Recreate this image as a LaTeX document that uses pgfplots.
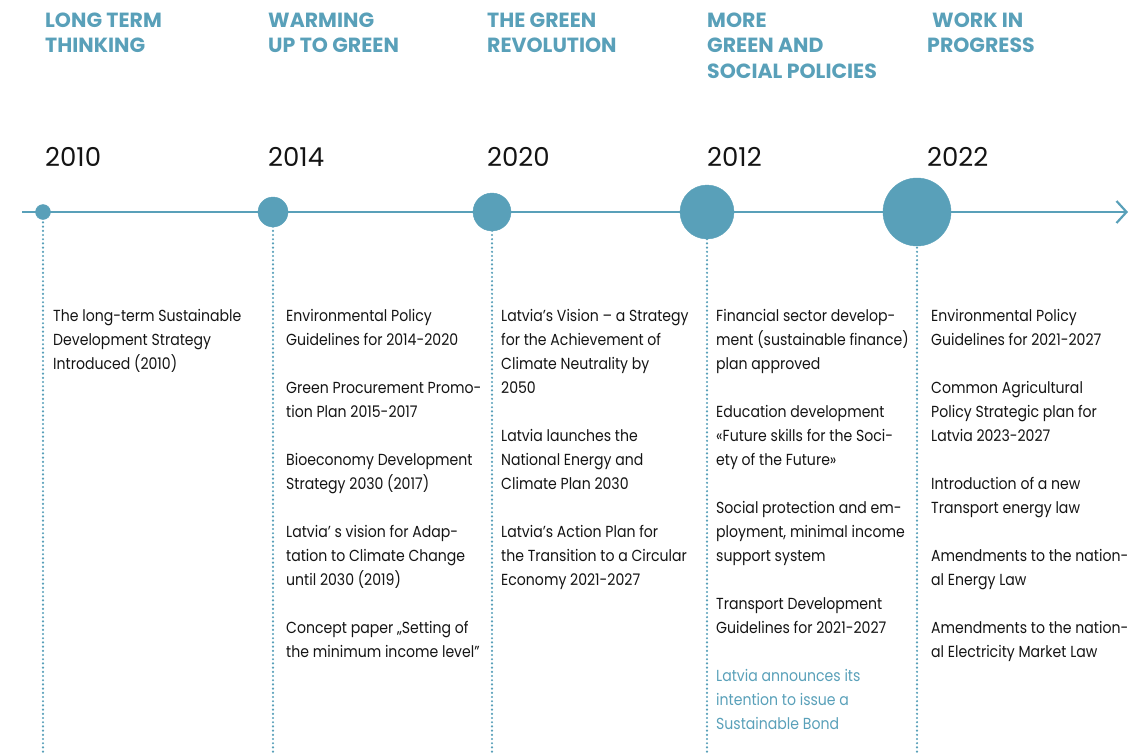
\documentclass[border=0pt]{standalone}
\usepackage{pgfplots}
\pgfplotsset{compat=1.18}
\usepackage{pgfplotstable}
\usetikzlibrary{arrows.meta}
\usepackage{fontspec}
\setmainfont{Poppins}
\newfontfamily\bodyfont[FakeStretch=0.88]{Poppins}
\definecolor{tl}{HTML}{59A0B9}
\definecolor{tx}{HTML}{141414}
\pgfplotstableread{
x y r
43 212 7.5
273 212 15
492 212 19
707 212 27
917 212 34
}\circles
\newcommand{\hd}[3]{\node[anchor=base west,text=tl,font=\fontsize{20.5}{25}\selectfont\bfseries,inner sep=0pt] at (axis cs:#1,#2) {#3};}
\newcommand{\yr}[3]{\node[anchor=base west,text=tx,font=\fontsize{26}{30}\selectfont,inner sep=0pt] at (axis cs:#1,#2) {#3};}
\newcommand{\bt}[3]{\node[anchor=base west,text=tx,font=\bodyfont\fontsize{16}{24}\selectfont,inner sep=0pt] at (axis cs:#1,#2) {#3};}
\newcommand{\bg}[3]{\node[anchor=base west,text=tl,font=\bodyfont\fontsize{16}{24}\selectfont,inner sep=0pt] at (axis cs:#1,#2) {#3};}
\begin{document}
\begin{tikzpicture}
\begin{axis}[hide axis, x=1pt, y=1pt, y dir=reverse, xmin=0, xmax=1141, ymin=0, ymax=755, clip=false, scale only axis]
\path (axis cs:0,0) rectangle (axis cs:1141,755);
% dotted verticals
\foreach \xx in {43,273,492,707,917}{
  \edef\tmp{\noexpand\addplot[tl, line width=2.4pt, dash pattern=on 0pt off 4.2pt, line cap=round] coordinates {(\xx,214) (\xx,754)};}
  \tmp
}
\addplot[tl, line width=2.5pt, -{Straight Barb[length=10pt,width=22pt,line width=2.2pt]}] coordinates {(22,212) (1128,212)};
\addplot[only marks, mark=*, color=tl, scatter, point meta=explicit symbolic,
  visualization depends on={\thisrow{r}\as\rr},
  scatter/@pre marker code/.code={\pgfsetcolor{tl}\def\pgfplotsmarksize{\rr pt}\pgfplotsset{mark size=\rr}},
  scatter/@post marker code/.code={}]
  table[x=x,y=y,meta=r] {\circles};
% headers
\hd{45}{27}{LONG TERM}
\hd{45}{52}{THINKING}
\hd{268}{27}{WARMING}
\hd{268}{52}{UP TO GREEN}
\hd{487}{27}{THE GREEN}
\hd{487}{52}{REVOLUTION}
\hd{707}{27}{MORE}
\hd{707}{52}{GREEN AND}
\hd{707}{78}{SOCIAL POLICIES}
\hd{932}{27}{WORK IN}
\hd{927}{52}{PROGRESS}
% years
\yr{45}{166}{2010}
\yr{268}{166}{2014}
\yr{487}{166}{2020}
\yr{707}{166}{2012}
\yr{927}{166}{2022}
% column 1
\bt{53}{321}{The long-term Sustainable}
\bt{53}{345}{Development Strategy}
\bt{53}{369}{Introduced (2010)}
% column 2
\bt{286}{321}{Environmental Policy}
\bt{286}{345}{Guidelines for 2014-2020}
\bt{286}{393}{Green Procurement Promo-}
\bt{286}{417}{tion Plan 2015-2017}
\bt{286}{465}{Bioeconomy Development}
\bt{286}{489}{Strategy 2030 (2017)}
\bt{286}{537}{Latvia’ s vision for Adap-}
\bt{286}{561}{tation to Climate Change}
\bt{286}{585}{until 2030 (2019)}
\bt{286}{633}{Concept paper „Setting of}
\bt{286}{657}{the minimum income level”}
% column 3
\bt{501}{321}{Latvia’s Vision – a Strategy}
\bt{501}{345}{for the Achievement of}
\bt{501}{369}{Climate Neutrality by}
\bt{501}{393}{2050}
\bt{501}{441}{Latvia launches the}
\bt{501}{465}{National Energy and}
\bt{501}{489}{Climate Plan 2030}
\bt{501}{537}{Latvia’s Action Plan for}
\bt{501}{561}{the Transition to a Circular}
\bt{501}{585}{Economy 2021-2027}
% column 4
\bt{716}{321}{Financial sector develop-}
\bt{716}{345}{ment (sustainable finance)}
\bt{716}{369}{plan approved}
\bt{716}{417}{Education development}
\bt{716}{441}{«Future skills for the Soci-}
\bt{716}{465}{ety of the Future»}
\bt{716}{513}{Social protection and em-}
\bt{716}{537}{ployment, minimal income}
\bt{716}{561}{support system}
\bt{716}{609}{Transport Development}
\bt{716}{633}{Guidelines for 2021-2027}
\bg{716}{681}{Latvia announces its}
\bg{716}{705}{intention to issue a}
\bg{716}{729}{Sustainable Bond}
% column 5
\bt{931}{321}{Environmental Policy}
\bt{931}{345}{Guidelines for 2021-2027}
\bt{931}{393}{Common Agricultural}
\bt{931}{417}{Policy Strategic plan for}
\bt{931}{441}{Latvia 2023-2027}
\bt{931}{489}{Introduction of a new}
\bt{931}{513}{Transport energy law}
\bt{931}{561}{Amendments to the nation-}
\bt{931}{585}{al Energy Law}
\bt{931}{633}{Amendments to the nation-}
\bt{931}{657}{al Electricity Market Law}
\end{axis}
\end{tikzpicture}
\end{document}
